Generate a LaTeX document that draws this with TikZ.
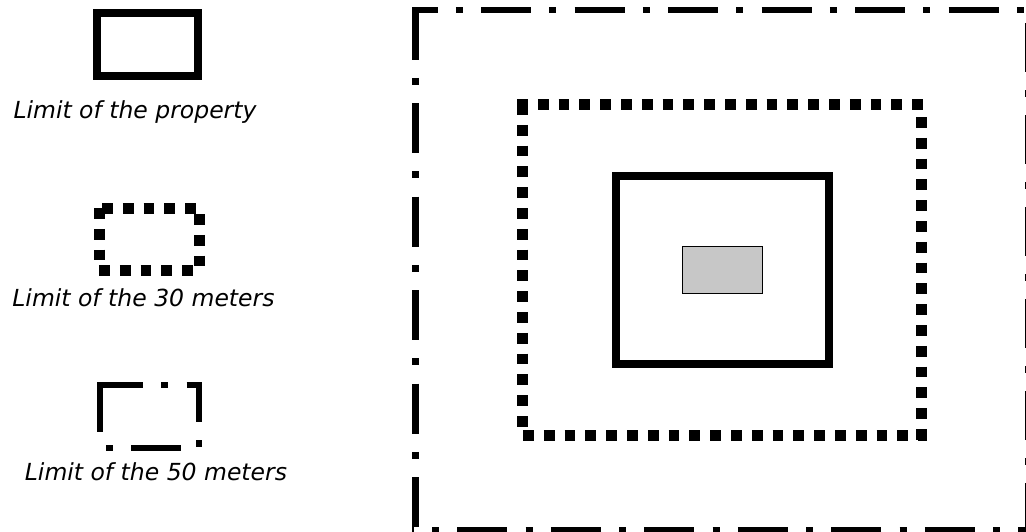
\documentclass[tikz,border=0pt]{standalone}
\usepackage{fontspec}
\setmainfont{DejaVu Sans}
\begin{document}
\begin{tikzpicture}[x=1pt,y=-1pt,
  solidline/.style={line width=8pt, line join=miter},
  dotline/.style={line width=10.7pt, line cap=butt, dash pattern=on 10.7pt off 10.1pt},
  dashdotline/.style={line width=6.5pt, line cap=butt, dash pattern=on 50pt off 18.25pt on 7pt off 18.25pt},
  dashdotv/.style={line width=6.5pt, line cap=butt, dash pattern=on 49pt off 18pt on 7pt off 18pt},
  legendtext/.style={font=\fontsize{23.5}{28}\selectfont\itshape, anchor=base, inner sep=0pt},
  graybox/.style={line width=1.2pt, draw=black, fill=black!22}]
\useasboundingbox (0,0) rectangle (1026,531);
% legend: limit of the property
\draw[solidline] (97.3,13.3) rectangle (197.7,76);
\node[legendtext] (lblprop) at (135,118) {Limit of the property};
% legend: limit of the 30 meters
\draw[dotline] (102,208.5) -- (196.2,208.5);
\draw[dotline] (99.5,208) -- (99.5,260.6);
\draw[dotline] (199.5,214) -- (199.5,266.6);
\draw[dotline] (99,270.5) -- (193.2,270.5);
\node[legendtext] (lbl30) at (143.5,306) {Limit of the 30 meters};
% legend: limit of the 50 meters
\draw[dashdotline, line width=6pt, dash phase=4pt] (97,385) -- (202,385);
\draw[dashdotline, line width=6pt] (100,382) -- (100,433);
\draw[dashdotline, line width=6pt, dash phase=10pt] (199,382) -- (199,447.25);
\draw[dashdotline, line width=6pt, dash phase=68.25pt] (106,447.5) -- (181.25,447.5);
\node[legendtext] (lbl50) at (156,480) {Limit of the 50 meters};
% main plan: 50 m limit
\draw[dashdotline, dash phase=24.5pt] (412,10) -- (1034,10);
\draw[dashdotv, dash phase=75.75pt] (1028,6.75) -- (1028,533.25);
\draw[dashdotline, dash phase=48.25pt] (412,530) -- (1034,530);
\draw[dashdotline, dash phase=90.75pt] (415.5,6.75) -- (415.5,533);
% main plan: 30 m limit
\draw[dotline] (517,104.5) -- (927,104.5);
\draw[dotline, dash phase=13.8pt] (921.5,110) -- (921.5,441);
\draw[dotline] (523,435.5) -- (927,435.5);
\draw[dotline] (522.5,104) -- (522.5,427);
% main plan: property and building
\draw[solidline] (616,176) rectangle (829,364);
\draw[graybox] (682.5,246.5) rectangle (762.5,293.5);
\end{tikzpicture}
\end{document}
